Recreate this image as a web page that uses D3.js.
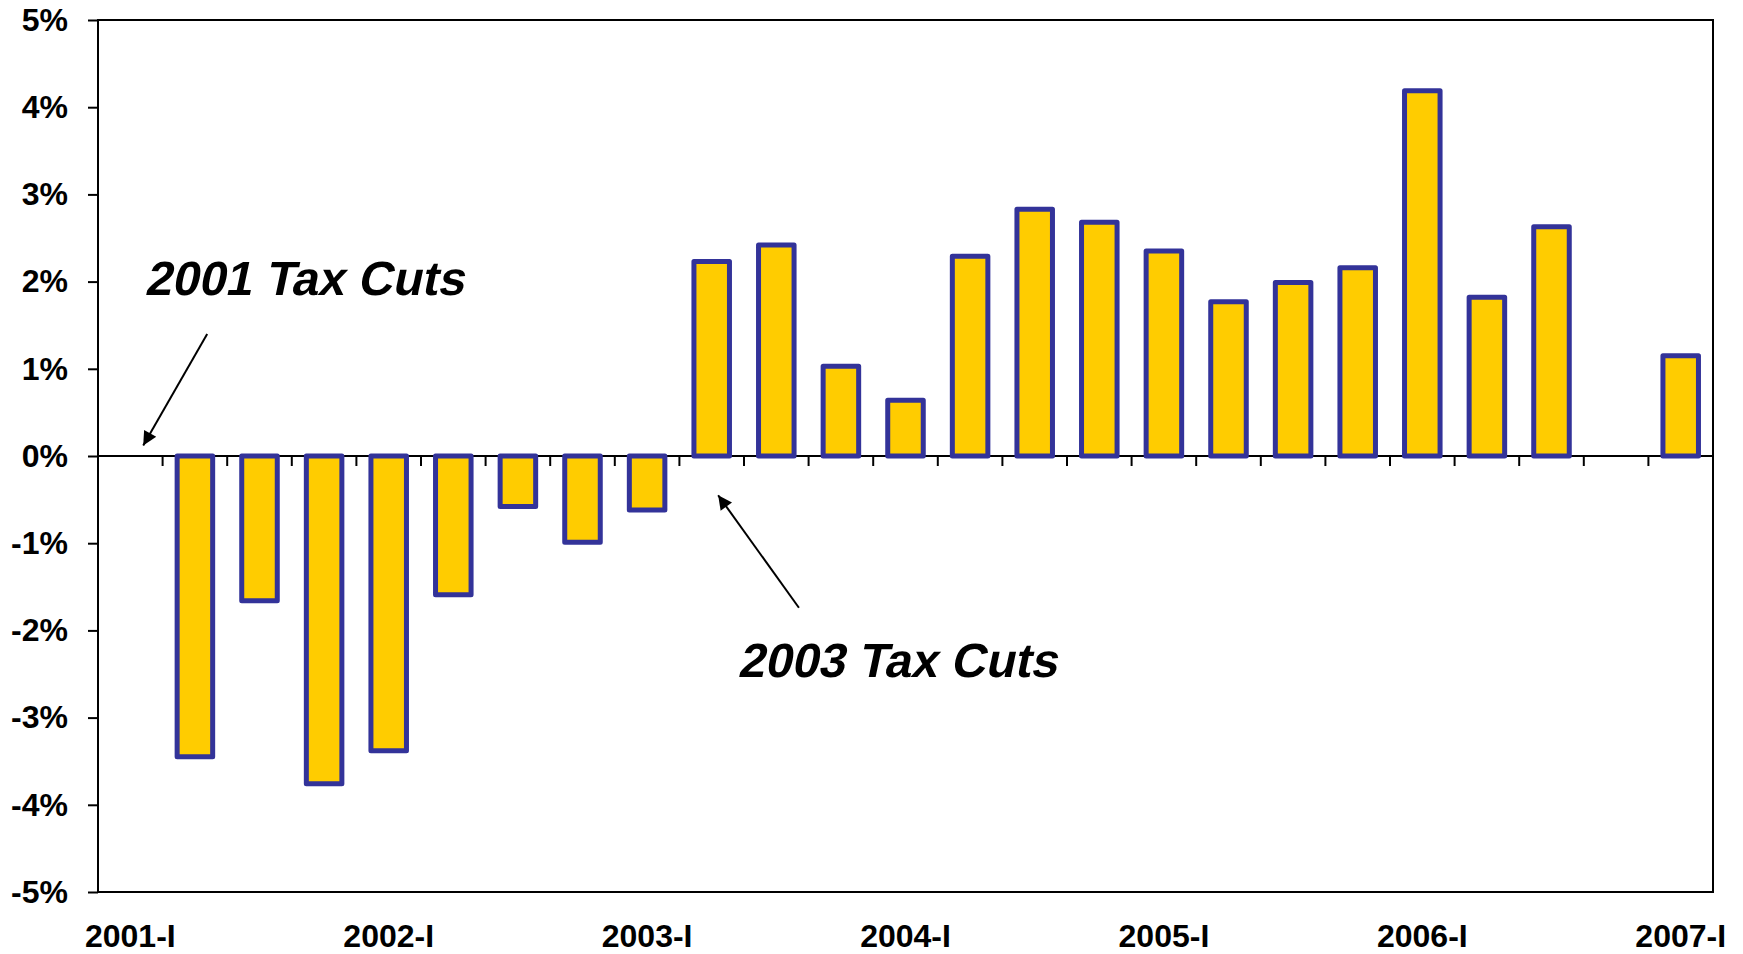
<!DOCTYPE html>
<html>
<head>
<meta charset="utf-8">
<script src="https://cdn.jsdelivr.net/npm/d3@7"></script>
<style>
  html, body { margin: 0; padding: 0; background: #fff; }
  svg { display: block; font-family: "Liberation Sans", Arial, sans-serif; }
</style>
</head>
<body>
<svg id="chart" width="1743" height="954"></svg>
<script>
// Quarterly growth, 2001-I through 2007-I (percent)
const quarters = [
  "2001-I", "2001-II", "2001-III", "2001-IV",
  "2002-I", "2002-II", "2002-III", "2002-IV",
  "2003-I", "2003-II", "2003-III", "2003-IV",
  "2004-I", "2004-II", "2004-III", "2004-IV",
  "2005-I", "2005-II", "2005-III", "2005-IV",
  "2006-I", "2006-II", "2006-III", "2006-IV",
  "2007-I"
];
const growth = [
  null, -3.45, -1.66, -3.76,
  -3.38, -1.59, -0.58, -0.99,
  -0.62, 2.23, 2.42, 1.03,
  0.64, 2.29, 2.83, 2.68,
  2.35, 1.77, 1.99, 2.16,
  4.19, 1.82, 2.63, null,
  1.15
];
const yTicks = [-5, -4, -3, -2, -1, 0, 1, 2, 3, 4, 5];
const xLabels = ["2001-I", "2002-I", "2003-I", "2004-I", "2005-I", "2006-I", "2007-I"];

// Callouts: text anchored at a quarter (offset in bands) and a value level,
// arrow running from tail to tip in the same coordinates.
const callouts = [
  { text: "2001 Tax Cuts", at: ["2001-I", 0.72, 1.85],
    tail: ["2001-II", 0.69, 1.40], tip: ["2001-I", 0.70, 0.12] },
  { text: "2003 Tax Cuts", at: ["2003-III", -0.1, -2.54],
    tail: ["2003-III", 0.85, -1.74], tip: ["2003-II", 0.60, -0.45] }
];

const svg = d3.select("#chart");
const plot = { left: 98, right: 1713, top: 20, bottom: 892 };
const FONT = '"Liberation Sans", Arial, sans-serif';

const x = d3.scaleBand().domain(quarters).range([plot.left, plot.right]).padding(0);
const y = d3.scaleLinear().domain([-5, 5]).range([plot.bottom, plot.top]);
const bw = x.bandwidth();
const barW = bw * 0.55;

// plot frame
svg.append("rect")
  .attr("x", plot.left).attr("y", plot.top)
  .attr("width", plot.right - plot.left).attr("height", plot.bottom - plot.top)
  .attr("fill", "none").attr("stroke", "#000").attr("stroke-width", 2);

// value axis
const yAxis = svg.append("g")
  .attr("transform", `translate(${plot.left},0)`)
  .call(d3.axisLeft(y).tickValues(yTicks).tickSize(10).tickPadding(20)
    .tickFormat(d => d + "%"));
yAxis.select(".domain").remove();
yAxis.selectAll(".tick line").attr("stroke", "#000").attr("stroke-width", 2);
yAxis.selectAll(".tick text")
  .attr("fill", "#000").style("font-size", "32px").style("font-weight", "bold")
  .style("font-family", FONT);

// zero line with quarter ticks on band boundaries
svg.append("line")
  .attr("x1", plot.left).attr("x2", plot.right)
  .attr("y1", y(0)).attr("y2", y(0))
  .attr("stroke", "#000").attr("stroke-width", 2);
svg.append("g").selectAll("line")
  .data(quarters.slice(1))
  .join("line")
  .attr("x1", d => x(d)).attr("x2", d => x(d))
  .attr("y1", y(0)).attr("y2", y(0) + 10)
  .attr("stroke", "#000").attr("stroke-width", 2);

// category labels
const xAxis = svg.append("g")
  .attr("transform", `translate(0,${plot.bottom})`)
  .call(d3.axisBottom(x).tickValues(xLabels).tickSize(0).tickPadding(32));
xAxis.select(".domain").remove();
xAxis.selectAll(".tick text")
  .attr("fill", "#000").style("font-size", "32px").style("font-weight", "bold")
  .style("font-family", FONT);

// bars
const rows = quarters.map((q, i) => ({ q, v: growth[i] })).filter(d => d.v !== null);
svg.append("g").selectAll("rect")
  .data(rows)
  .join("rect")
  .attr("x", d => x(d.q) + (bw - barW) / 2)
  .attr("width", barW)
  .attr("y", d => y(Math.max(0, d.v)))
  .attr("height", d => Math.abs(y(d.v) - y(0)))
  .attr("fill", "#FFCC00")
  .attr("stroke", "#333399")
  .attr("stroke-width", 5)
  .attr("stroke-linejoin", "round");

// callouts
const px = p => x(p[0]) + p[1] * bw;
const py = p => y(p[2]);
const defs = svg.append("defs");
defs.append("marker")
  .attr("id", "head")
  .attr("viewBox", "0 0 10 10")
  .attr("refX", 10).attr("refY", 5)
  .attr("markerWidth", 8.5).attr("markerHeight", 7)
  .attr("markerUnits", "strokeWidth")
  .attr("orient", "auto")
  .append("path").attr("d", "M0,0 L10,5 L0,10 Z").attr("fill", "#000");

const notes = svg.append("g");
notes.selectAll("line")
  .data(callouts)
  .join("line")
  .attr("x1", d => px(d.tail)).attr("y1", d => py(d.tail))
  .attr("x2", d => px(d.tip)).attr("y2", d => py(d.tip))
  .attr("stroke", "#000").attr("stroke-width", 2)
  .attr("marker-end", "url(#head)");
// oblique bold sans for the callout captions
notes.selectAll("text")
  .data(callouts)
  .join("text")
  .attr("transform", d => `translate(${px(d.at)},${py(d.at)}) skewX(-12)`)
  .attr("fill", "#000")
  .style("font-family", FONT)
  .style("font-size", "48px").style("font-weight", "bold")
  .text(d => d.text);
</script>
</body>
</html>
